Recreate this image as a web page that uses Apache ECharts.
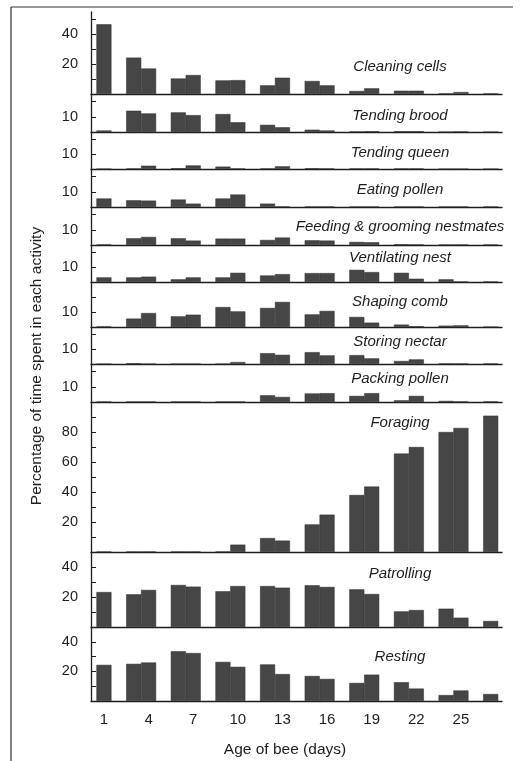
<!DOCTYPE html>
<html>
<head>
<meta charset="utf-8">
<script src="https://cdn.jsdelivr.net/npm/echarts@6/dist/echarts.min.js"></script>
<style>
html,body{margin:0;padding:0;background:#fff;}
#c{width:520px;height:761px;}
</style>
</head>
<body>
<div id="c"></div>
<script>
// ---- data ----
const days = [1, 3, 4, 6, 7, 9, 10, 12, 13, 15, 16, 18, 19, 21, 22, 24, 25, 27];
const xTickLabels = [1, 4, 7, 10, 13, 16, 19, 22, 25];
const activities = ['Cleaning cells', 'Tending brood', 'Tending queen', 'Eating pollen',
  'Feeding & grooming nestmates', 'Ventilating nest', 'Shaping comb', 'Storing nectar',
  'Packing pollen', 'Foraging', 'Patrolling', 'Resting'];
const cleaning = [46.7, 24.4, 17.1, 10.4, 12.7, 9.1, 9.3, 5.8, 10.9, 8.7, 5.8, 2.0, 3.8, 2.2, 2.2, 0.3, 1.3, 0.3];
const brood    = [1.0, 14.0, 12.2, 12.9, 11.1, 11.8, 6.4, 4.7, 3.1, 1.5, 1.0, 0.3, 0.5, 0.5, 0.5, 0, 0.3, 0];
const queen    = [0, 0.3, 2.2, 0.5, 2.4, 1.6, 0.3, 0.3, 1.8, 0.5, 0.3, 0.3, 0.3, 0.3, 0.3, 0, 0, 0];
const eating   = [5.6, 4.4, 4.2, 4.9, 2.2, 5.6, 8.2, 2.2, 0.3, 0.2, 0.2, 0.2, 0.2, 0.2, 0.2, 0.2, 0.2, 0.2];
const feeding  = [0.3, 4.4, 5.3, 4.4, 2.9, 4.2, 4.2, 3.3, 4.9, 3.1, 2.9, 2.0, 1.8, 0.5, 0.3, 0.2, 0.2, 0.2];
const venting  = [3.1, 3.1, 3.6, 1.8, 3.1, 3.1, 6.2, 4.4, 5.3, 6.0, 6.0, 8.2, 6.7, 6.2, 2.2, 1.8, 0.2, 0.2];
const shaping  = [0.3, 5.6, 9.3, 7.1, 8.2, 13.3, 10.4, 12.7, 16.7, 8.4, 10.7, 6.7, 2.9, 1.6, 0.5, 0.9, 1.1, 0];
const nectar   = [0, 0.5, 0, 0, 0, 0, 1.3, 7.3, 6.2, 8.0, 5.8, 6.0, 3.8, 2.0, 3.1, 0.3, 0.2, 0.2];
const packing  = [0.2, 0.2, 0.2, 0.2, 0.2, 0.2, 0.2, 4.4, 3.3, 5.6, 5.8, 4.0, 5.8, 1.1, 4.0, 0.7, 0.3, 0.3];
const foraging = [0.2, 0.2, 0.2, 0.2, 0.2, 0.2, 4.9, 9.3, 7.6, 18.4, 24.9, 38.0, 43.6, 65.6, 70.0, 80.0, 82.7, 90.9];
const patrol   = [23.3, 21.8, 24.7, 28.0, 26.9, 23.8, 27.3, 27.3, 26.2, 27.8, 26.7, 25.1, 22.0, 10.4, 11.3, 12.2, 6.2, 4.0];
const resting  = [24.4, 25.1, 26.0, 33.6, 32.4, 26.4, 23.1, 24.7, 18.2, 16.9, 14.9, 12.2, 17.8, 12.7, 8.4, 4.0, 7.1, 4.7];
const seriesValues = [cleaning, brood, queen, eating, feeding, venting, shaping, nectar, packing, foraging, patrol, resting];
const yMax = [55, 25, 25, 25, 25, 25, 30, 25, 25, 100, 50, 50];
const yTicks = [[10,20,30,40,50],[10,20],[10,20],[10,20],[10,20],[10,20],[10,20],[10,20],[10,20],
  [10,20,30,40,50,60,70,80,90],[10,20,30,40],[10,20,30,40]];
const yLabels = [[20,40],[10],[10],[10],[10],[10],[10],[10],[10],[20,40,60,80],[20,40],[20,40]];

// ---- layout ----
const FONT = "'Liberation Sans', Arial, Helvetica, sans-serif";
const INK = '#1e1e1e';
const tops    = [12, 94, 132, 169, 207, 245, 282, 327, 364, 402, 552, 627];
const bottoms = [94, 132, 169, 207, 245, 282, 327, 364, 402, 552, 627, 701];
const titleY  = [66.7, 116, 153.3, 190, 226.7, 258.3, 301.7, 341.7, 379.3, 423.3, 574, 657.3];

const grids = [], xAxes = [], yAxes = [], series = [], graphics = [];
activities.forEach((name, i) => {
  const last = i === activities.length - 1;
  grids.push({left: 91, width: 411, top: tops[i], height: bottoms[i] - tops[i]});
  xAxes.push({
    type: 'value', gridIndex: i, min: 0.13, max: 27.76,
    axisLine: {show: true, onZero: false, lineStyle: {color: INK, width: 1.3}},
    axisTick: {show: false},
    splitLine: {show: false},
    axisLabel: last ? {show: true, customValues: xTickLabels, fontFamily: FONT, fontSize: 15, color: INK, margin: 11}
                    : {show: false}
  });
  yAxes.push({
    type: 'value', gridIndex: i, min: 0, max: yMax[i],
    axisLine: {show: true, lineStyle: {color: INK, width: 1.3}},
    axisTick: {show: true, inside: true, length: 5, customValues: yTicks[i], lineStyle: {color: INK, width: 1}},
    splitLine: {show: false},
    axisLabel: {show: true, customValues: yLabels[i], fontFamily: FONT, fontSize: 14.5, color: INK, margin: 13}
  });
  series.push({
    type: 'bar', xAxisIndex: i, yAxisIndex: i,
    barWidth: 15,
    itemStyle: {color: '#464646', borderColor: '#2a2a2a', borderWidth: 0.5},
    data: days.map((d, k) => [d, seriesValues[i][k]]),
    silent: true, animation: false
  });
  graphics.push({
    type: 'text', x: 400, y: titleY[i],
    style: {text: name, fill: INK, font: 'italic 15px ' + FONT, align: 'center', verticalAlign: 'middle'}
  });
});

graphics.push({
  type: 'text', x: 37, y: 366, rotation: Math.PI / 2,
  style: {text: 'Percentage of time spent in each activity', fill: INK, font: '15.5px ' + FONT, align: 'center', verticalAlign: 'middle'}
});
graphics.push({
  type: 'text', x: 285, y: 750,
  style: {text: 'Age of bee (days)', fill: INK, font: '15.5px ' + FONT, align: 'center', verticalAlign: 'middle'}
});
graphics.push({type: 'line', shape: {x1: 11, y1: 7, x2: 513, y2: 7}, style: {stroke: '#333', lineWidth: 1.2}});
graphics.push({type: 'line', shape: {x1: 11, y1: 7, x2: 11, y2: 761}, style: {stroke: '#333', lineWidth: 1.2}});

const chart = echarts.init(document.getElementById('c'), null, {renderer: 'canvas'});
chart.setOption({
  animation: false,
  backgroundColor: '#fff',
  grid: grids, xAxis: xAxes, yAxis: yAxes, series: series, graphic: graphics
});
</script>
</body>
</html>
